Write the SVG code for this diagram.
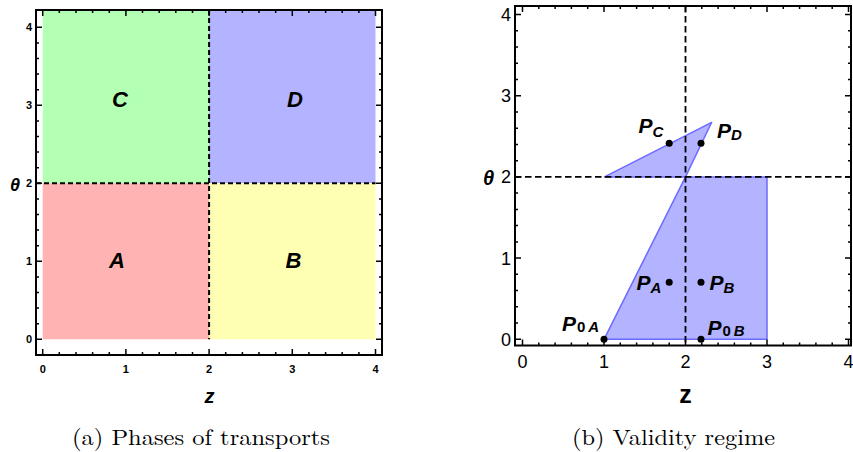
<svg xmlns="http://www.w3.org/2000/svg" width="853" height="452" viewBox="0 0 853 452">
<style>
.frame{fill:none;stroke:#000;stroke-width:2}
.tick{fill:none;stroke:#000;stroke-width:1.5}
.dash{fill:none;stroke:#000;stroke-width:2;stroke-dasharray:5 3}
.dash2{fill:none;stroke:#000;stroke-width:1.8;stroke-dasharray:6.5 3.5}
.tl{font-family:"Liberation Sans",Arial,sans-serif;font-weight:bold;font-size:11px;fill:#000}
.tr{font-family:"Liberation Sans",Arial,sans-serif;font-size:18px;fill:#000}
.big{font-family:"Liberation Sans",Arial,sans-serif;font-weight:bold;font-style:italic;font-size:22px;fill:#000;text-anchor:middle}
.ax{font-family:"Liberation Sans",Arial,sans-serif;font-weight:bold;font-style:italic;fill:#000}
.pl{font-family:"Liberation Sans",Arial,sans-serif;font-weight:bold;font-style:italic;font-size:21px;fill:#000}
.sub{font-size:15px}
.up{font-style:normal}
.cap{font-family:"Latin Modern Roman","Liberation Serif","Times New Roman",serif;font-size:22px;fill:#000;text-anchor:middle}
.region{fill:#b3b3ff;stroke:#6b6bff;stroke-width:1.5;stroke-linejoin:round}
.dot{fill:#000}
</style>
<rect width="853" height="452" fill="#fff"/>

<g id="plot-a">
  <g id="region-C"><rect x="42.7" y="10" width="166.4" height="173.3" fill="#b3ffb3"/></g>
  <g id="region-D"><rect x="209.1" y="10" width="166.4" height="173.3" fill="#b3b3ff"/></g>
  <g id="region-A"><rect x="42.7" y="183.3" width="166.4" height="156" fill="#ffb3b3"/></g>
  <g id="region-B"><rect x="209.1" y="183.3" width="166.4" height="156" fill="#ffffb3"/></g>
  <g id="a-dashes">
    <line class="dash" x1="209.1" y1="10" x2="209.1" y2="339.3"/>
    <line class="dash" x1="36" y1="183.3" x2="375.5" y2="183.3"/>
  </g>
  <rect class="frame" x="36" y="10" width="346" height="345"/>
  <path class="tick" d="M59.3 355v-3M76 355v-3M92.6 355v-3M109.3 355v-3M142.5 355v-3M159.2 355v-3M175.8 355v-3M192.5 355v-3M225.7 355v-3M242.4 355v-3M259 355v-3M275.7 355v-3M308.9 355v-3M325.6 355v-3M342.2 355v-3M358.9 355v-3
  M59.3 10v3M76 10v3M92.6 10v3M109.3 10v3M142.5 10v3M159.2 10v3M175.8 10v3M192.5 10v3M225.7 10v3M242.4 10v3M259 10v3M275.7 10v3M308.9 10v3M325.6 10v3M342.2 10v3M358.9 10v3
  M42.7 355v-6M125.9 355v-6M209.1 355v-6M292.3 355v-6M375.5 355v-6M42.7 10v6M125.9 10v6M209.1 10v6M292.3 10v6M375.5 10v6
  M36 323.7h3M36 308.1h3M36 292.5h3M36 276.9h3M36 245.7h3M36 230.1h3M36 214.5h3M36 198.9h3M36 167.7h3M36 152.1h3M36 136.5h3M36 120.9h3M36 89.7h3M36 74.1h3M36 58.5h3M36 42.9h3
  M382 323.7h-3M382 308.1h-3M382 292.5h-3M382 276.9h-3M382 245.7h-3M382 230.1h-3M382 214.5h-3M382 198.9h-3M382 167.7h-3M382 152.1h-3M382 136.5h-3M382 120.9h-3M382 89.7h-3M382 74.1h-3M382 58.5h-3M382 42.9h-3
  M36 339.3h6M36 261.3h6M36 183.3h6M36 105.3h6M36 27.3h6M382 339.3h-6M382 261.3h-6M382 183.3h-6M382 105.3h-6M382 27.3h-6"/>
  <g text-anchor="end">
    <text class="tl" x="32" y="343.3">0</text>
    <text class="tl" x="32" y="265.3">1</text>
    <text class="tl" x="32" y="187.3">2</text>
    <text class="tl" x="32" y="109.3">3</text>
    <text class="tl" x="32" y="31.3">4</text>
  </g>
  <g text-anchor="middle">
    <text class="tl" x="42.7" y="373">0</text>
    <text class="tl" x="125.9" y="373">1</text>
    <text class="tl" x="209.1" y="373">2</text>
    <text class="tl" x="292.3" y="373">3</text>
    <text class="tl" x="375.5" y="373">4</text>
  </g>
  <text class="ax" x="15" y="191" font-size="18" text-anchor="middle">θ</text>
  <text class="ax" x="209.5" y="403" font-size="20" text-anchor="middle">z</text>
  <text class="big" x="120" y="107">C</text>
  <text class="big" x="295" y="107">D</text>
  <text class="big" x="117" y="268">A</text>
  <text class="big" x="293.5" y="268">B</text>
  <text class="cap" x="201" y="445" textLength="258" lengthAdjust="spacingAndGlyphs">(a) Phases of transports</text>
</g>

<g id="plot-b">
  <g id="validity-region">
    <polygon class="region" points="604,339.3 767,339.3 767,176.9 685.5,176.9"/>
    <polygon class="region" points="604.5,176.9 711.7,122.3 685.5,176.9"/>
  </g>
  <g id="b-dashes">
    <line class="dash2" x1="685.5" y1="6" x2="685.5" y2="345.5"/>
    <line class="dash2" x1="515" y1="176.9" x2="853" y2="176.9"/>
  </g>
  <rect class="frame" x="515" y="6" width="336" height="339.5"/>
  <path class="tick" d="M538.8 345.5v-3M555.1 345.5v-3M571.4 345.5v-3M587.7 345.5v-3M620.3 345.5v-3M636.6 345.5v-3M652.9 345.5v-3M669.2 345.5v-3M701.8 345.5v-3M718.1 345.5v-3M734.4 345.5v-3M750.7 345.5v-3M783.3 345.5v-3M799.6 345.5v-3M815.9 345.5v-3M832.2 345.5v-3
  M538.8 6v3M555.1 6v3M571.4 6v3M587.7 6v3M620.3 6v3M636.6 6v3M652.9 6v3M669.2 6v3M701.8 6v3M718.1 6v3M734.4 6v3M750.7 6v3M783.3 6v3M799.6 6v3M815.9 6v3M832.2 6v3
  M522.5 345.5v-6M604 345.5v-6M685.5 345.5v-6M767 345.5v-6M848.5 345.5v-6M522.5 6v6M604 6v6M685.5 6v6M767 6v6M848.5 6v6
  M515 323.1h3M515 306.8h3M515 290.6h3M515 274.3h3M515 241.9h3M515 225.6h3M515 209.4h3M515 193.1h3M515 160.7h3M515 144.4h3M515 128.2h3M515 111.9h3M515 79.5h3M515 63.2h3M515 47h3M515 30.7h3
  M851 323.1h-3M851 306.8h-3M851 290.6h-3M851 274.3h-3M851 241.9h-3M851 225.6h-3M851 209.4h-3M851 193.1h-3M851 160.7h-3M851 144.4h-3M851 128.2h-3M851 111.9h-3M851 79.5h-3M851 63.2h-3M851 47h-3M851 30.7h-3
  M515 339.3h6M515 258.1h6M515 176.9h6M515 95.7h6M515 14.5h6M851 339.3h-6M851 258.1h-6M851 176.9h-6M851 95.7h-6M851 14.5h-6"/>
  <g text-anchor="end">
    <text class="tr" x="511" y="345.8">0</text>
    <text class="tr" x="511" y="264.6">1</text>
    <text class="tr" x="511" y="183.4">2</text>
    <text class="tr" x="511" y="102.2">3</text>
    <text class="tr" x="511" y="21">4</text>
  </g>
  <g text-anchor="middle">
    <text class="tr" x="522.5" y="368">0</text>
    <text class="tr" x="604" y="368">1</text>
    <text class="tr" x="685.5" y="368">2</text>
    <text class="tr" x="767" y="368">3</text>
    <text class="tr" x="848.5" y="368">4</text>
  </g>
  <text class="ax" x="488.5" y="185" font-size="20" text-anchor="middle">θ</text>
  <text x="685.5" y="403" font-family="'Liberation Sans',Arial,sans-serif" font-weight="bold" font-size="25" text-anchor="middle">z</text>
  <g id="points">
    <circle class="dot" cx="669.2" cy="143.3" r="3.5"/>
    <circle class="dot" cx="701" cy="143.3" r="3.5"/>
    <circle class="dot" cx="669.2" cy="282.3" r="3.5"/>
    <circle class="dot" cx="701" cy="282.3" r="3.5"/>
    <circle class="dot" cx="604" cy="339.3" r="3.5"/>
    <circle class="dot" cx="701" cy="339.3" r="3.5"/>
  </g>
  <g id="point-labels">
    <text class="pl" x="638.5" y="133">P<tspan class="sub" dy="4">C</tspan></text>
    <text class="pl" x="717" y="137.5">P<tspan class="sub" dy="2">D</tspan></text>
    <text class="pl" x="636.5" y="289.5">P<tspan class="sub" dy="3">A</tspan></text>
    <text class="pl" x="709.5" y="289.5">P<tspan class="sub" dy="3">B</tspan></text>
    <text class="pl" x="562" y="331">P<tspan class="sub up" dy="1" dx="1">0</tspan><tspan class="sub" dx="3">A</tspan></text>
    <text class="pl" x="707.5" y="334.5">P<tspan class="sub up" dy="1" dx="1">0</tspan><tspan class="sub" dx="3">B</tspan></text>
  </g>
  <text class="cap" x="673.5" y="445" textLength="203" lengthAdjust="spacingAndGlyphs">(b) Validity regime</text>
</g>
</svg>
